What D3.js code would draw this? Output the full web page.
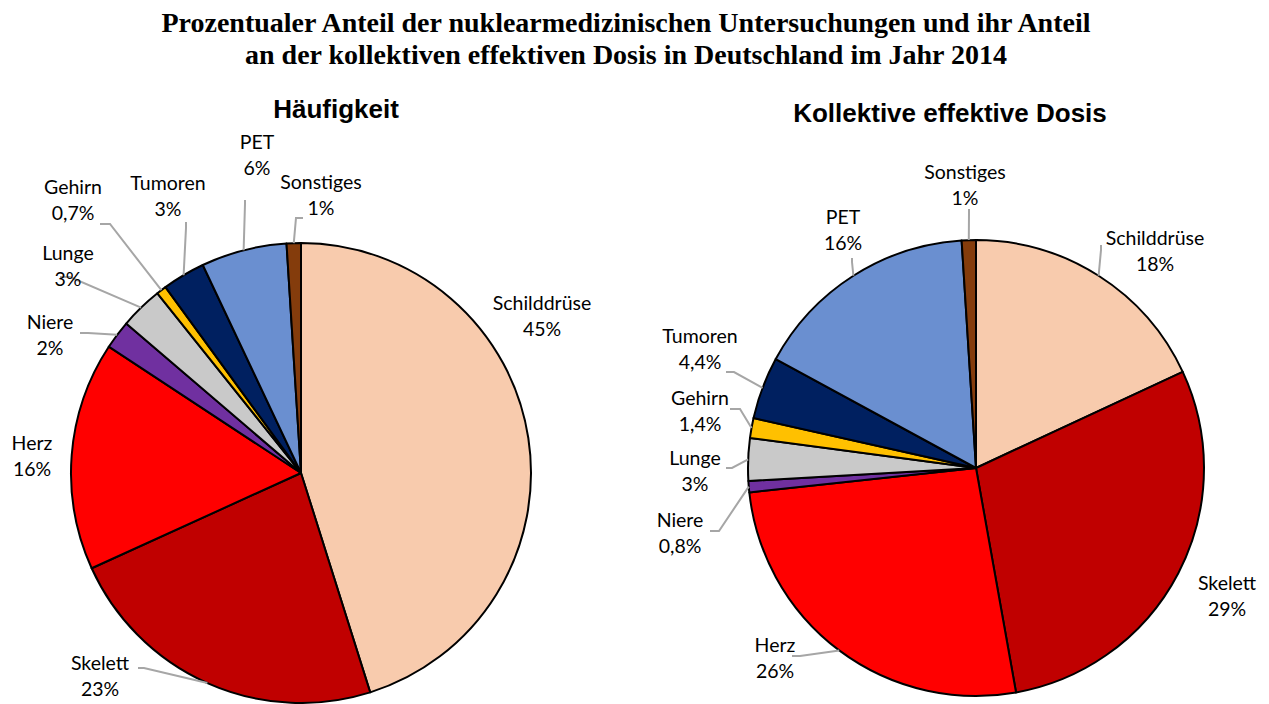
<!DOCTYPE html>
<html>
<head>
<meta charset="utf-8">
<script src="https://cdn.jsdelivr.net/npm/d3@7"></script>
<style>
  body { margin: 0; background: #fff; }
  .lbl { font-family: Lato, "Open Sans", sans-serif; font-size: 19.5px; fill: #000; }
</style>
</head>
<body>
<div id="chart"></div>
<script>
// categories, clockwise from 12 o'clock
const categories = ["Schilddrüse", "Skelett", "Herz", "Niere", "Lunge", "Gehirn", "Tumoren", "PET", "Sonstiges"];
const colors = ["#F8CBAD", "#C00000", "#FF0000", "#7030A0", "#C9C9C9", "#FFC000", "#002060", "#6A8FD0", "#843C0C"];

// Häufigkeit (%)
const haeufigkeit = [45, 23, 16, 2, 3, 0.7, 3, 6, 1];
const haeufigkeitLabels = ["45%", "23%", "16%", "2%", "3%", "0,7%", "3%", "6%", "1%"];

// Kollektive effektive Dosis (%)
const dosis = [18, 29, 26, 0.8, 3, 1.4, 4.4, 16, 1];
const dosisLabels = ["18%", "29%", "26%", "0,8%", "3%", "1,4%", "4,4%", "16%", "1%"];

// label layout: [x, y of first line, leader start, leader elbow] (null = no leader)
const leftLayout = [
  [542, 310, null],
  [100, 670, [138, 668], [144, 668]],
  [32, 450, null],
  [50, 329, [80, 333], [88, 333]],
  [68, 260, [60, 277], [70, 277]],
  [73, 194, [100, 224], [110, 224]],
  [168, 190, [186, 222], [186, 228]],
  [257, 149, [245, 200], [245, 204]],
  [321, 189, [303, 218], [296, 218]]
];
const rightLayout = [
  [1155, 245, [1101, 245], [1101, 250]],
  [1227, 590, null],
  [775, 652, [792, 656], [800, 656]],
  [680, 527, [710, 531], [719, 531]],
  [695, 465, [726, 468], [732, 468]],
  [700, 405, [730, 409], [740, 409]],
  [700, 343, [726, 372], [734, 372]],
  [843, 224, [852, 258], [852, 262]],
  [965, 179, [969, 209], [969, 213]]
];

const W = 1269, H = 704;
const svg = d3.select("#chart").append("svg").attr("width", W).attr("height", H);

svg.append("text")
  .attr("x", 626).attr("y", 32)
  .attr("text-anchor", "middle")
  .style("font-family", "'Liberation Serif', 'Times New Roman', serif")
  .style("font-weight", "bold").style("font-size", "28px")
  .text("Prozentualer Anteil der nuklearmedizinischen Untersuchungen und ihr Anteil");
svg.append("text")
  .attr("x", 626).attr("y", 64)
  .attr("text-anchor", "middle")
  .style("font-family", "'Liberation Serif', 'Times New Roman', serif")
  .style("font-weight", "bold").style("font-size", "28px")
  .text("an der kollektiven effektiven Dosis in Deutschland im Jahr 2014");

function drawPie(cx, cy, r, values, labels, layout, title, tx, ty) {
  svg.append("text")
    .attr("x", tx).attr("y", ty)
    .attr("text-anchor", "middle")
    .style("font-family", "'Liberation Sans', Arial, sans-serif")
    .style("font-weight", "bold").style("font-size", "26px")
    .text(title);

  const pie = d3.pie().sort(null).value(d => d)(values);
  const arc = d3.arc().innerRadius(0).outerRadius(r);
  const g = svg.append("g").attr("transform", `translate(${cx},${cy})`);

  g.selectAll("path.slice")
    .data(pie)
    .join("path")
    .attr("class", "slice")
    .attr("d", arc)
    .attr("fill", (d, i) => colors[i])
    .attr("stroke", "#000")
    .attr("stroke-width", 2)
    .attr("stroke-linejoin", "round");

  // leader lines
  pie.forEach((d, i) => {
    const lay = layout[i];
    if (!lay[2]) return;
    const a = (d.startAngle + d.endAngle) / 2;
    const ex = cx + r * Math.sin(a), ey = cy - r * Math.cos(a);
    const pts = [lay[2], lay[3], [ex, ey]];
    svg.append("path")
      .attr("d", d3.line()(pts))
      .attr("fill", "none")
      .attr("stroke", "#A6A6A6")
      .attr("stroke-width", 2);
  });

  // labels
  pie.forEach((d, i) => {
    const lay = layout[i];
    const t = svg.append("text").attr("class", "lbl").attr("text-anchor", "middle");
    t.append("tspan").attr("x", lay[0]).attr("y", lay[1]).text(categories[i]);
    t.append("tspan").attr("x", lay[0]).attr("y", lay[1] + 26).text(labels[i]);
  });
}

drawPie(301, 473, 230, haeufigkeit, haeufigkeitLabels, leftLayout, "Häufigkeit", 336, 118);
drawPie(976, 468, 228, dosis, dosisLabels, rightLayout, "Kollektive effektive Dosis", 950, 122);
</script>
</body>
</html>
